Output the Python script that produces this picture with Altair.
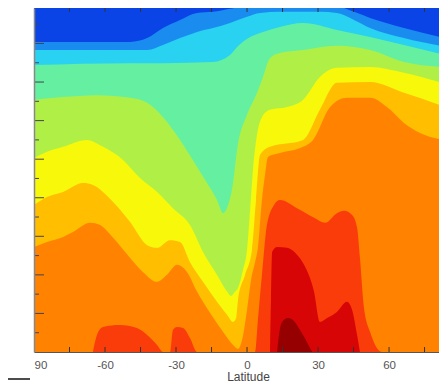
import altair as alt
import pandas as pd

W, H = 405, 344
X_DOMAIN = [-90, 81.1]
Y_DOMAIN = [0, 8.92]

BAND_COLORS = ["#0b44e6", "#1a8cf0", "#28d2f0", "#64f0a0", "#b0f046", "#f8f80a",
               "#ffbe00", "#ff8200", "#fa3c0a", "#d70505", "#960000"]

X_LABELS = [-90, -60, -30, 0, 30, 60]
X_TICKS = [-75, -60, -45, -30, -15, 0, 15, 30, 45, 60, 75]
Y_MAJOR = [1, 2, 3, 4, 5, 6, 7, 8]
Y_MINOR = [0.5, 1.5, 2.5, 3.5, 4.5, 5.5, 6.5, 7.5, 8.5]

# contour boundaries (latitude, level) : region below each curve takes the next colour
B1_LAT = [-90, -49.4, -42.2, -35.5, -28.3, -21.1, -14.4, -7.2, 0, 13.9, 30.8, 38, 45.2, 52, 66.3, 85]
B1_H = [8.04, 8.04, 8.14, 8.4, 8.61, 8.79, 8.82, 8.9, 8.97, 9.0, 9.0, 8.97, 8.82, 8.66, 8.4, 8.12]

B2_LAT = [-90, -42.2, -35.5, -28.3, -21.1, -14.4, -7.2, 0, 5.5, 13.9, 30.8, 38, 45.2, 52, 66.3, 85]
B2_H = [7.83, 7.83, 7.96, 8.14, 8.3, 8.4, 8.53, 8.69, 8.79, 8.82, 8.82, 8.79, 8.61, 8.4, 8.14, 7.9]

B3_LAT = [-90, -49.4, -35.5, -14.4, -7.2, -4.2, 1.3, 6.8, 13.9, 23.7, 38, 52, 66.3, 85]
B3_H = [7.44, 7.49, 7.49, 7.52, 7.7, 7.91, 8.17, 8.3, 8.43, 8.53, 8.35, 8.17, 7.96, 7.68]

B4_LAT = [-90, -77.7, -63.4, -49.4, -42.2, -35.5, -28.3, -21.1, -16.9, -12.7, -10.1, -8, -5.9,
          -4.2, 0, 3.8, 6.3, 9.7, 13.9, 23.7, 38, 52, 66.3, 85]
B4_H = [6.54, 6.61, 6.66, 6.59, 6.46, 6.09, 5.5, 4.8, 4.38, 3.94, 3.6, 3.81, 4.38,
        5.24, 6.15, 6.66, 7.05, 7.62, 7.75, 7.83, 7.94, 7.83, 7.52, 7.38]

B5_LAT = [-90, -84.5, -77.7, -67.6, -60.8, -52.4, -45.2, -38, -31.3, -24.1, -18.6, -12.7, -8.4,
          -6.8, -5.1, -3.8, -1.7, 0, 1.3, 2.5, 4.2, 6.3, 9.7, 16.9, 23.7, 30.8, 38, 52, 66.3, 85]
B5_H = [5.03, 5.19, 5.32, 5.5, 5.32, 4.98, 4.51, 4.15, 3.73, 3.29, 2.59, 2.0, 1.56,
        1.45, 1.56, 1.66, 2.13, 2.65, 3.68, 4.72, 5.63, 6.09, 6.28, 6.35, 6.54, 7.13, 7.37, 7.39, 7.24, 6.93]

B6_LAT = [-90, -84.5, -77.7, -69.3, -65.1, -56.6, -49.4, -42.2, -38, -32.5, -28.3, -24.1, -18.6,
          -12.7, -8.4, -5.9, -4.6, -3.8, -0.8, 2.1, 3.8, 5.5, 9.7, 23.7, 30.8, 38, 52, 66.3, 85]
B6_H = [3.81, 4.02, 4.15, 4.38, 4.33, 3.89, 3.37, 2.77, 2.7, 2.9, 2.85, 2.33, 1.82,
        1.3, 0.96, 0.78, 0.88, 1.35, 2.0, 2.65, 3.94, 5.11, 5.32, 5.5, 6.28, 6.98, 7.0, 6.72, 6.33]

B7_LAT = [-90, -84.5, -77.7, -73.5, -66.3, -62.1, -56.6, -49.4, -43.9, -38, -33.8, -29.6, -25.3,
          -21.1, -15.6, -10.1, -5.9, -3.8, -2.1, 0, 1.7, 3.4, 4.6, 6.3, 7.6, 8.9, 13.9, 23.7,
          27.9, 35.1, 42.2, 52, 59.1, 66.3, 73.1, 85]
B7_H = [2.72, 2.85, 2.98, 3.11, 3.35, 3.29, 2.96, 2.44, 2.07, 1.82, 2.0, 2.26, 2.07,
        1.56, 1.01, 0.52, 0.18, 0.08, 0.31, 1.09, 1.87, 2.33, 2.7, 3.94, 4.59, 5.06, 5.16, 5.32,
        5.5, 6.35, 6.59, 6.59, 6.35, 5.94, 5.68, 5.48]

B8_LAT = [-65.1, -63.4, -60.8, -53.7, -46.5, -42.2, -38, -35.5, -32.5, -31.3, -29.6, -27, -24.1,
          -21.1, 3.4, 4.6, 6.3, 8.4, 11.4, 13.9, 21.1, 28.3, 33, 38, 41, 44.4, 46.5, 47.7, 49.4,
          52, 54.9, 57, 85]
B8_H = [0, 0.44, 0.65, 0.7, 0.62, 0.44, 0.18, 0, 0, 0.57, 0.65, 0.62, 0.36,
        0, 0, 0.83, 2.0, 3.29, 3.81, 3.94, 3.73, 3.48, 3.35, 3.6, 3.66, 3.55, 3.22, 2.44, 1.14,
        0.52, 0.1, 0, 0]

B9_LAT = [9.7, 10.1, 10.6, 12.7, 16.9, 21.1, 24.1, 28.3, 30.8, 33.8, 38, 42.2, 44.4, 46.5, 47.7]
B9_H = [0, 1.35, 2.59, 2.72, 2.7, 2.52, 2.26, 1.56, 0.78, 0.88, 1.04, 1.3, 1.09, 0.44, 0]

B10_LAT = [12.7, 13.5, 14.8, 17.3, 19.9, 22.4, 25.3, 27.5]
B10_H = [0, 0.44, 0.78, 0.88, 0.8, 0.57, 0.26, 0]

BOUNDARIES = [(B1_LAT, B1_H), (B2_LAT, B2_H), (B3_LAT, B3_H), (B4_LAT, B4_H), (B5_LAT, B5_H),
              (B6_LAT, B6_H), (B7_LAT, B7_H), (B8_LAT, B8_H), (B9_LAT, B9_H), (B10_LAT, B10_H)]

FONT = "Liberation Sans"
xs = alt.Scale(domain=X_DOMAIN, nice=False, zero=False)
ys = alt.Scale(domain=Y_DOMAIN, nice=False, zero=False)

X_AXIS = alt.Axis(
    values=X_LABELS, labelExpr="datum.value == -90 ? '90' : '' + datum.value",
    ticks=False, grid=False, domainColor="#555", domainWidth=1, zindex=1,
    labelFont=FONT, labelFontSize=11.5, labelColor="#555", labelPadding=7,
    title="Latitude", titleFont=FONT, titleFontSize=12, titleFontWeight="normal",
    titleColor="#444", titleX=214, titleY=28, titleAlign="center",
    titleBaseline="alphabetic")
Y_AXIS = alt.Axis(labels=False, ticks=False, grid=False, title=None, domainColor="#888",
                  domainWidth=1.5, zindex=1)

layers = []
for k, (lats, hs) in enumerate(BOUNDARIES, start=1):
    sub = pd.DataFrame({"lat": lats, "h": hs})
    layers.append(
        alt.Chart(sub).mark_area(color=BAND_COLORS[k], interpolate="monotone", clip=True)
        .encode(x=alt.X("lat:Q", scale=xs, axis=X_AXIS, title="Latitude"),
                y=alt.Y("h:Q", scale=ys, axis=Y_AXIS, title=None),
                y2=alt.datum(0))
    )

ymaj = alt.Chart(pd.DataFrame({"h": Y_MAJOR})).mark_rule(color="#445", strokeWidth=1).encode(
    x=alt.value(0), x2=alt.value(10), y=alt.Y("h:Q", scale=ys, axis=Y_AXIS, title=None))
ymin = alt.Chart(pd.DataFrame({"h": Y_MINOR})).mark_rule(color="#445", strokeWidth=1).encode(
    x=alt.value(0), x2=alt.value(5), y=alt.Y("h:Q", scale=ys, axis=Y_AXIS, title=None))
xbot = alt.Chart(pd.DataFrame({"lat": X_TICKS})).mark_rule(color="#333", strokeWidth=1).encode(
    x=alt.X("lat:Q", scale=xs, axis=X_AXIS, title="Latitude"), y=alt.value(H), y2=alt.value(H - 5))
xtop = alt.Chart(pd.DataFrame({"lat": X_TICKS})).mark_rule(color="#333", strokeWidth=1).encode(
    x=alt.X("lat:Q", scale=xs, axis=X_AXIS, title="Latitude"), y=alt.value(0), y2=alt.value(4))
stub = alt.Chart(pd.DataFrame({"a": [0]})).mark_rule(color="#111", strokeWidth=1.5).encode(
    x=alt.value(-26), x2=alt.value(-4), y=alt.value(371))

chart = alt.layer(*layers, ymaj, ymin, xbot, xtop, stub).properties(
    width=W, height=H,
    autosize=alt.AutoSizeParams(type="none"),
    padding={"left": 26, "top": 0, "right": 0, "bottom": 32},
).configure_view(stroke=None, fill=BAND_COLORS[0])

chart.save("out.html", embed_options={"renderer": "svg", "actions": False})
